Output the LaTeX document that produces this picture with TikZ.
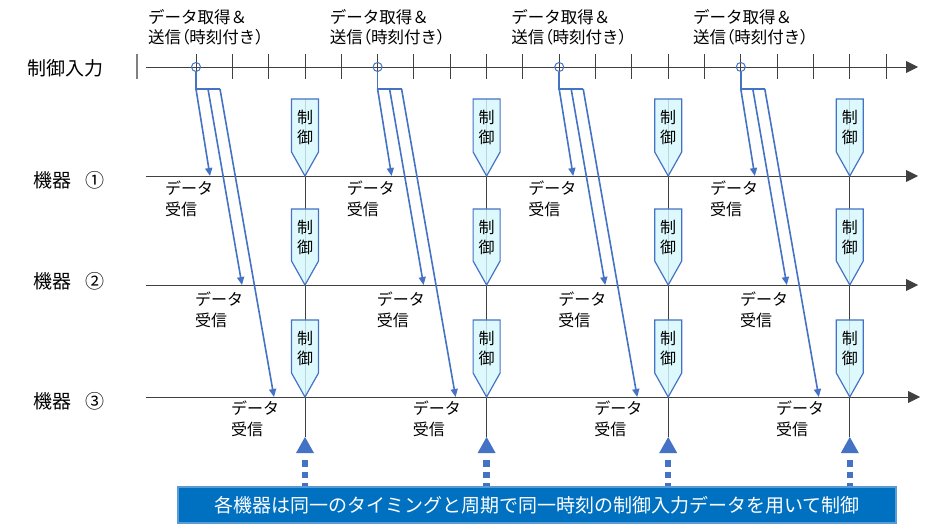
\documentclass[tikz,border=0pt]{standalone}
\usepackage{fontspec}
\setmainfont{Noto Sans CJK JP}
\usetikzlibrary{arrows.meta}
\definecolor{ablue}{HTML}{4472C4}
\definecolor{boxblue}{HTML}{0070C0}
\definecolor{boxedge}{HTML}{5B9BD5}
\definecolor{ctrlfill}{HTML}{D6F8FC}
\definecolor{axisgray}{HTML}{404040}
\begin{document}
\begin{tikzpicture}[x=1pt,y=-1pt,
  axisline/.style={draw=axisgray, line width=0.9pt},
  timearrow/.style={axisline,-{Triangle[length=12pt,width=12pt]}},
  ticks/.style={draw=axisgray, line width=0.9pt},
  sig/.style={draw=ablue, line width=1.6pt},
  sigarrow/.style={sig,-{Triangle[length=8pt,width=7pt]}},
  leftlabel/.style={anchor=west, inner sep=0pt, font=\fontsize{19}{22}\selectfont},
  toplabel/.style={anchor=west, inner sep=0pt, align=left, font=\fontsize{16.5}{20}\selectfont},
  rxlabel/.style={anchor=west, inner sep=0pt, align=left, font=\fontsize{16}{21}\selectfont},
  ctrltext/.style={inner sep=0pt, align=center, font=\fontsize{16}{20}\selectfont},
  ctrlshape/.style={draw=ablue, line width=1.2pt, fill=ctrlfill, fill opacity=0.82},
  sendpt/.style={circle, draw=ablue, line width=1pt, minimum size=9pt, inner sep=0pt}
]
\useasboundingbox (0,0) rectangle (940,529);

% left labels
\node[leftlabel] (lin) at (27,68) {制御入力};
\node[leftlabel] (ld1) at (33,180) {機器\hspace{0.75em}①};
\node[leftlabel] (ld2) at (33,281) {機器\hspace{0.75em}②};
\node[leftlabel] (ld3) at (33,401) {機器\hspace{0.75em}③};

% axes
\coordinate (a0s) at (146,67);  \coordinate (a0e) at (918,67);
\coordinate (a1s) at (146,176); \coordinate (a1e) at (918,176);
\coordinate (a2s) at (146,285); \coordinate (a2e) at (918,285);
\coordinate (a3s) at (146,397); \coordinate (a3e) at (920,397);
\draw[timearrow] (a0s) -- (a0e);
\draw[timearrow] (a1s) -- (a1e);
\draw[timearrow] (a2s) -- (a2e);
\draw[timearrow] (a3s) -- (a3e);

% ticks
\draw[draw=gray, line width=1.8pt] (137,54) -- (137,79);
\foreach \k in {0,...,19}{
  \pgfmathsetmacro{\tx}{196+36.32*\k}
  \draw[ticks] (\tx,54) -- (\tx,79);
}

\foreach \i in {0,1,2,3}{
  \pgfmathsetmacro{\sx}{196+181.6*\i}
  \pgfmathsetmacro{\cx}{\sx+109}
  % top label
  \node[toplabel] (t\i) at (\sx-48,27) {データ取得＆\\送信{\addfontfeature{RawFeature=+palt}（}時刻付き{\addfontfeature{RawFeature=+palt}）}};
  % send point
  \node[sendpt] (p\i) at (\sx,67) {};
  \coordinate (b\i) at (\sx,89);
  \coordinate (bm\i) at (\sx+12,89);
  \coordinate (br\i) at (\sx+24,89);
  \coordinate (r1\i) at (\sx+14,176);
  \coordinate (r2\i) at (\sx+46,285);
  \coordinate (r3\i) at (\sx+78,397);
  \draw[sig] (p\i.south) -- (b\i);
  \draw[sig] ([xshift=-1pt]b\i) -- (br\i);
  \draw[sigarrow] (b\i) -- (r1\i);
  \draw[sigarrow] (bm\i) -- (r2\i);
  \draw[sigarrow] (br\i) -- (r3\i);
  % receive labels
  \node[rxlabel] (x1\i) at (\sx-31,199) {データ\\受信};
  \node[rxlabel] (x2\i) at (\sx-1,309.5) {データ\\受信};
  \node[rxlabel] (x3\i) at (\sx+35,419) {データ\\受信};
  % control line
  \coordinate (ct\i) at (\cx,99);
  \coordinate (cb\i) at (\cx,437);
  \draw[axisline] (ct\i) -- (cb\i);
  \foreach \top/\tip in {99/176,209/285,320/397}{
    \draw[ctrlshape] (\cx-13.5,\top) -- (\cx+13.5,\top) -- (\cx+13.5,\tip-24) -- (\cx,\tip) -- (\cx-13.5,\tip-24) -- cycle;
    \node[ctrltext] at (\cx,\top+28) {制\\御};
  }
  % triangle and dotted link
  \fill[ablue] (cb\i) -- ++(9,16) -- ++(-18,0) -- cycle;
  \coordinate (d\i) at (\cx,460);
  \coordinate (e\i) at (\cx,487);
  \draw[draw=ablue, line width=6.5pt, dash pattern=on 6.5pt off 5pt] (d\i) -- (e\i);
}

% bottom box
\node[draw=boxedge, line width=1.2pt, fill=boxblue, text=white, minimum width=718pt, minimum height=36pt, inner sep=0pt, font=\fontsize{19}{22}\selectfont] (box) at (537,505) {各機器は同一のタイミングと周期で同一時刻の制御入力データを用いて制御};
\end{tikzpicture}
\end{document}
